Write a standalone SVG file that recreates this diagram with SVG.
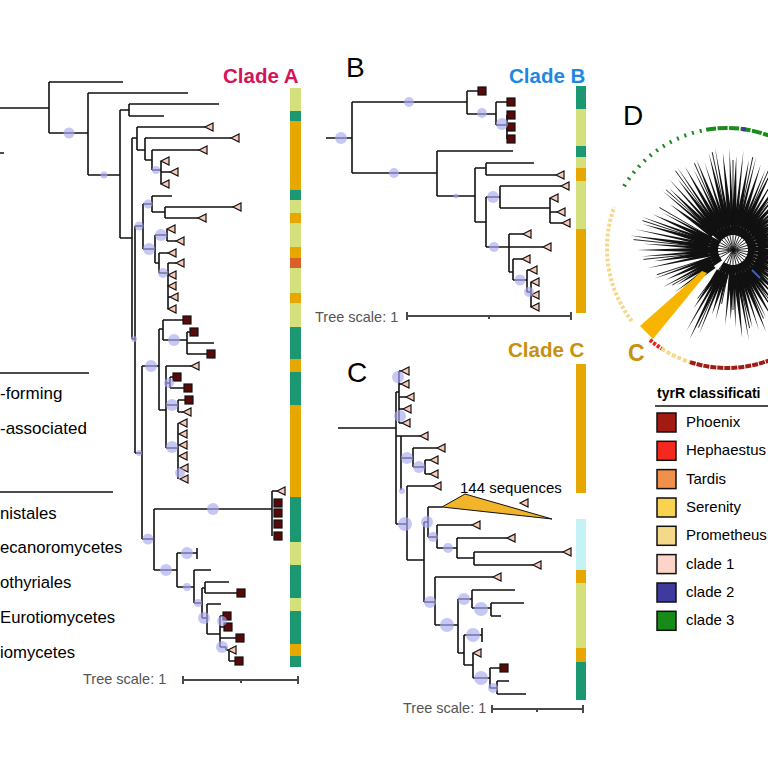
<svg xmlns="http://www.w3.org/2000/svg" width="768" height="768" viewBox="0 0 768 768">
<style>
.t{fill:none;stroke:#111;stroke-width:1.6}
.b{fill:#a9a9ef;fill-opacity:.65}
.lg{fill:#d3e07c}.tl{fill:#1b9772}.or{fill:#e5a700}.ro{fill:#d9602a}.cy{fill:#c5f2f5}
.sc{fill:none;stroke:#4a4a4a;stroke-width:2}
.st{font-family:"Liberation Sans",Arial,sans-serif;font-size:14.5px;fill:#555}
.lab{font-family:"Liberation Sans",Arial,sans-serif;font-size:28px;fill:#000}
.cl{font-family:"Liberation Sans",Arial,sans-serif;font-size:20.5px;font-weight:bold}
.lt{font-family:"Liberation Sans",Arial,sans-serif;font-size:17px;fill:#000}
.le{font-family:"Liberation Sans",Arial,sans-serif;font-size:15px;fill:#000}
.box{stroke:#111;stroke-width:1.5}
</style>
<defs>
<path id="tri" d="M0,0L8,-4L8,4Z" fill="#f8cab6" stroke="#111" stroke-width="1.2"/>
<rect id="sq" x="-4" y="-4" width="8" height="8" fill="#5a0909" stroke="#111" stroke-width="1.2"/>
</defs>

<g id="legend-left">
<path d="M0,373H89M0,492H113" stroke="#111" stroke-width="1.5"/>
<text class="lt" x="0" y="399">-forming</text>
<text class="lt" x="0" y="434">-associated</text>
<text class="lt" x="0" y="519" style="font-size:16.7px">nistales</text>
<text class="lt" x="0" y="553" style="font-size:16.7px">ecanoromycetes</text>
<text class="lt" x="0" y="588" style="font-size:16.7px">othyriales</text>
<text class="lt" x="0" y="623" style="font-size:16.7px">Eurotiomycetes</text>
<text class="lt" x="0" y="658" style="font-size:16.7px">iomycetes</text>
</g>

<g id="panelA">
<text class="cl" x="223" y="83" fill="#d4145a">Clade A</text>
<g id="stripA">
<rect class="lg" x="290" y="88" width="11" height="23"/>
<rect class="tl" x="290" y="111" width="11" height="10"/>
<rect class="or" x="290" y="121" width="11" height="69"/>
<rect class="tl" x="290" y="190" width="11" height="10"/>
<rect class="lg" x="290" y="200" width="11" height="13"/>
<rect class="or" x="290" y="213" width="11" height="10"/>
<rect class="lg" x="290" y="223" width="11" height="24"/>
<rect class="or" x="290" y="247" width="11" height="11"/>
<rect class="ro" x="290" y="258" width="11" height="10"/>
<rect class="lg" x="290" y="268" width="11" height="25"/>
<rect class="or" x="290" y="293" width="11" height="10"/>
<rect class="lg" x="290" y="303" width="11" height="24"/>
<rect class="tl" x="290" y="327" width="11" height="32"/>
<rect class="or" x="290" y="359" width="11" height="13"/>
<rect class="tl" x="290" y="372" width="11" height="33"/>
<rect class="or" x="290" y="405" width="11" height="92"/>
<rect class="tl" x="290" y="497" width="11" height="45"/>
<rect class="lg" x="290" y="542" width="11" height="23"/>
<rect class="tl" x="290" y="565" width="11" height="33"/>
<rect class="lg" x="290" y="598" width="11" height="13"/>
<rect class="tl" x="290" y="611" width="11" height="33"/>
<rect class="or" x="290" y="644" width="11" height="12"/>
<rect class="tl" x="290" y="656" width="11" height="11"/>
</g>
<g id="edgesA">
<path class="t" d="M0,108H49M49,82V133M49,82H123M49,133H88M0,153H4M88,93V175M88,93H188M88,175H120M120,110V238M120,110H129M129,104V116M129,104H219M129,116H164M120,238H132M132,138V339M132,138H137M137,127V150M137,127H205M137,150H145M145,138V160M145,138H231M145,160H152M152,150V170M152,150H199M152,170H161M161,161V184M161,172H170M132,339H135M135,226V453M135,226H143M143,204V249M143,204H152M152,196V212M152,196H172M152,212H165M165,207V218M165,207H233M165,218H198M143,249H155M155,235V263M155,235H167M167,229V241M167,241H176M155,263H159M159,253V273M159,253H168M159,273H168M168,263V309M168,263H176M168,297H170"/>
<path class="t" d="M135,453H142M142,366V539M142,366H159M159,329V410M159,329H163M163,320V340M163,320H183M163,340H187M187,332V354M187,332H190M187,343H214M187,354H207M159,410H166M166,366V448M166,366H191M166,383H170M170,377V388M170,377H173M170,388H184M166,405H178M178,400V412M178,400H185M178,412H183M166,448H178M178,423V479"/>
<path class="t" d="M142,539H154M154,509V570M154,509H272M272,491V536M272,491H277M154,570H177M177,553V587M177,553H197M197,548V559M177,587H194M194,570V603M194,570H211M194,603H202M202,588V618M202,588H205M205,582V593M205,582H229M205,593H237M202,618H207M207,604V634M207,604H221M207,634H220M220,616V647M220,616H223M220,627H224M220,638H236M220,647H226M226,647V650M226,650H228M229,650V661M229,661H235"/>
</g>
<g id="tipsA">
<use href="#tri" x="205" y="127"/><use href="#tri" x="231" y="138"/><use href="#tri" x="199" y="150"/>
<use href="#tri" x="161" y="161"/><use href="#tri" x="170" y="172"/><use href="#tri" x="161" y="184"/>
<use href="#tri" x="233" y="207"/><use href="#tri" x="198" y="218"/><use href="#tri" x="167" y="229"/>
<use href="#tri" x="176" y="241"/><use href="#tri" x="168" y="253"/><use href="#tri" x="176" y="263"/>
<use href="#tri" x="168" y="275"/><use href="#tri" x="168" y="286"/><use href="#tri" x="170" y="297"/><use href="#tri" x="168" y="309"/>
<use href="#tri" x="191" y="366"/><use href="#tri" x="183" y="412"/><use href="#tri" x="179" y="423"/><use href="#tri" x="179" y="434"/>
<use href="#tri" x="179" y="445"/><use href="#tri" x="179" y="456"/><use href="#tri" x="180" y="468"/><use href="#tri" x="180" y="479"/>
<use href="#tri" x="277" y="491"/><use href="#tri" x="228" y="650"/>
<use href="#sq" x="187" y="320"/><use href="#sq" x="194" y="332"/><use href="#sq" x="211" y="354"/>
<use href="#sq" x="177" y="377"/><use href="#sq" x="188" y="388"/><use href="#sq" x="189" y="400"/>
<use href="#sq" x="278" y="503"/><use href="#sq" x="278" y="513"/><use href="#sq" x="278" y="524"/><use href="#sq" x="278" y="536"/>
<use href="#sq" x="241" y="593"/><use href="#sq" x="227" y="616"/><use href="#sq" x="228" y="627"/><use href="#sq" x="240" y="638"/><use href="#sq" x="239" y="661"/>
</g>
<g id="supportA">
<circle class="b" cx="69" cy="133" r="5.5"/><circle class="b" cx="104" cy="175" r="3.5"/><circle class="b" cx="156" cy="170" r="4"/>
<circle class="b" cx="139" cy="226" r="4.5"/><circle class="b" cx="148" cy="204" r="4.5"/><circle class="b" cx="149" cy="249" r="6"/>
<circle class="b" cx="161" cy="235" r="6"/><circle class="b" cx="163" cy="273" r="5"/><circle class="b" cx="134" cy="339" r="3"/>
<circle class="b" cx="139" cy="453" r="3"/><circle class="b" cx="151" cy="366" r="6"/><circle class="b" cx="174" cy="340" r="6"/>
<circle class="b" cx="169" cy="383" r="5"/><circle class="b" cx="172" cy="405" r="6"/><circle class="b" cx="172" cy="447" r="6"/>
<circle class="b" cx="180" cy="473" r="5"/><circle class="b" cx="148" cy="539" r="5.5"/><circle class="b" cx="213" cy="509" r="6"/>
<circle class="b" cx="166" cy="570" r="6"/><circle class="b" cx="187" cy="553" r="6"/><circle class="b" cx="187" cy="587" r="4"/>
<circle class="b" cx="198" cy="603" r="4"/><circle class="b" cx="204" cy="618" r="6"/><circle class="b" cx="222" cy="621" r="5"/>
<circle class="b" cx="222" cy="647" r="6"/>
</g>
<g id="scaleA">
<text class="st" x="83" y="684">Tree scale: 1</text>
<path class="sc" d="M183,680H298M183,676V684M298,676V684M241,680V683"/>
</g>
</g>

<g id="panelB">
<text class="lab" x="346" y="77">B</text>
<text class="cl" x="509" y="83" fill="#1e88e5">Clade B</text>
<g id="stripB">
<rect class="tl" x="576" y="86" width="10" height="23"/>
<rect class="lg" x="576" y="109" width="10" height="37"/>
<rect class="tl" x="576" y="146" width="10" height="11"/>
<rect class="lg" x="576" y="157" width="10" height="11"/>
<rect class="or" x="576" y="168" width="10" height="13"/>
<rect class="lg" x="576" y="181" width="10" height="48"/>
<rect class="or" x="576" y="229" width="10" height="84"/>
</g>
<g id="edgesB">
<path class="t" d="M326,138H352M352,102V173M352,102H467M467,91V114M467,91H478M467,114H496M496,102V125M496,102H507M496,125H507M507,115V139M352,173H437M437,151V196M437,151H513M437,196H475M475,168V222M475,168H486M486,163V175M486,163H534M486,175H556M475,222H486M486,197V247M486,197H500M500,186V208M500,186H561M500,208H550M550,198V223M550,212H557M550,223H562M486,247H509M509,234V272M509,234H523M509,247H543M509,272H513M513,259V280M513,259H522M513,280H527M527,270V292M527,270H529M527,292H531M531,282V307"/>
</g>
<g id="tipsB">
<use href="#sq" x="482" y="91"/><use href="#sq" x="511" y="102"/><use href="#sq" x="511" y="115"/><use href="#sq" x="511" y="127"/><use href="#sq" x="511" y="139"/>
<use href="#tri" x="556" y="175"/><use href="#tri" x="561" y="186"/><use href="#tri" x="550" y="198"/><use href="#tri" x="557" y="212"/><use href="#tri" x="562" y="223"/>
<use href="#tri" x="523" y="234"/><use href="#tri" x="543" y="247"/><use href="#tri" x="522" y="259"/><use href="#tri" x="529" y="270"/>
<use href="#tri" x="531" y="282"/><use href="#tri" x="531" y="295"/><use href="#tri" x="531" y="307"/>
</g>
<g id="supportB">
<circle class="b" cx="341" cy="138" r="6"/><circle class="b" cx="409" cy="102" r="5"/><circle class="b" cx="482" cy="113" r="5"/>
<circle class="b" cx="502" cy="124" r="6"/><circle class="b" cx="394" cy="173" r="5"/><circle class="b" cx="456" cy="196" r="2.5"/>
<circle class="b" cx="493" cy="197" r="6"/><circle class="b" cx="494" cy="247" r="5"/><circle class="b" cx="520" cy="280" r="5.5"/>
<circle class="b" cx="529" cy="292" r="5"/>
</g>
<g id="scaleB">
<text class="st" x="315" y="322">Tree scale: 1</text>
<path class="sc" d="M407,316H571M407,312V320M571,312V320M489,316V319"/>
</g>
</g>

<g id="panelC">
<text class="lab" x="347" y="382">C</text>
<text class="cl" x="508" y="357" fill="#c8900c">Clade C</text>
<g id="stripC">
<rect class="or" x="576" y="364" width="10" height="129"/>
<rect class="cy" x="576" y="519" width="10" height="51"/>
<rect class="or" x="576" y="570" width="10" height="13"/>
<rect class="lg" x="576" y="583" width="10" height="65"/>
<rect class="or" x="576" y="648" width="10" height="14"/>
<rect class="tl" x="576" y="662" width="10" height="38"/>
</g>
<g id="edgesC">
<path class="t" d="M338,428H396M396,392V524M396,392H399M399,371V423M399,371H401M399,384H401M399,397H406M399,409H403M399,423H402M396,436H420M401,436V490M401,458H413M413,448V467M413,448H437M413,467H425M425,460V474M425,460H430M425,474H430M396,524H407M407,486V560M407,486H433M407,560H424M424,522V602M424,522H428M428,507V537M428,507H442M428,537H437M437,525V548M437,525H472M437,548H457M457,538V558M457,538H507M457,558H474M474,552V565M474,552H563M474,565H533M424,602H435M435,577V625M435,577H493M435,625H458M458,599V653M458,599H472M472,590V608M472,590H515M472,608H491M491,603V616M491,603H524M491,616H501M458,653H464M464,635V665M464,635H482M482,628V642M464,665H473M473,653V678M473,678H490M490,668V688M490,668H500M490,688H497M497,681V694M497,681H509M497,694H526"/>
</g>
<g id="collapsedC">
<polygon points="442,507 465,494 552,519" fill="#f2b52a" stroke="#111" stroke-width="1"/>
<text class="le" x="460" y="493">144 sequences</text>
</g>
<g id="tipsC">
<use href="#tri" x="401" y="371"/><use href="#tri" x="401" y="384"/><use href="#tri" x="406" y="397"/><use href="#tri" x="403" y="409"/>
<use href="#tri" x="402" y="423"/><use href="#tri" x="420" y="436"/><use href="#tri" x="437" y="448"/><use href="#tri" x="430" y="460"/>
<use href="#tri" x="430" y="474"/><use href="#tri" x="433" y="486"/><use href="#tri" x="520" y="503"/><use href="#tri" x="472" y="525"/>
<use href="#tri" x="507" y="538"/><use href="#tri" x="563" y="552"/><use href="#tri" x="533" y="565"/><use href="#tri" x="493" y="577"/>
<use href="#tri" x="473" y="653"/><use href="#sq" x="504" y="668"/>
</g>
<g id="supportC">
<circle class="b" cx="398" cy="377" r="6"/><circle class="b" cx="400" cy="416" r="6"/><circle class="b" cx="407" cy="458" r="6"/>
<circle class="b" cx="419" cy="467" r="6"/><circle class="b" cx="402" cy="491" r="3"/><circle class="b" cx="405" cy="524" r="7"/>
<circle class="b" cx="427" cy="522" r="6"/><circle class="b" cx="433" cy="537" r="5"/><circle class="b" cx="448" cy="548" r="5"/>
<circle class="b" cx="430" cy="602" r="6"/><circle class="b" cx="447" cy="625" r="7"/><circle class="b" cx="464" cy="599" r="6"/>
<circle class="b" cx="481" cy="609" r="7"/><circle class="b" cx="473" cy="635" r="7"/><circle class="b" cx="481" cy="678" r="7"/>
<circle class="b" cx="493" cy="688" r="5"/>
</g>
<g id="scaleC">
<text class="st" x="403" y="713">Tree scale: 1</text>
<path class="sc" d="M492,709H583M492,705V713M583,705V713M537,709V712"/>
</g>
</g>

<g id="panelD">
<text class="lab" x="623" y="125">D</text>
<g id="ringD" fill="none" stroke-width="4">
<path d="M624.1,186.2A120,120 0 0 1 706.2,129.8" stroke="#1a8c1a" stroke-dasharray="2 6"/>
<path d="M706.2,129.8A120,120 0 0 1 787,144.1" stroke="#1a8c1a" stroke-dasharray="10 1.5"/>
<path d="M741.6,128.9A120,120 0 0 1 745.8,129.5" stroke="#3f3a9e"/>
<path d="M631.8,321.1A120,120 0 0 1 614.2,207" stroke="#f5d98a" stroke-dasharray="3 2"/>
<path d="M649.9,339.9A120,120 0 0 0 661.6,348.6" stroke="#e8201a" stroke-dasharray="3 1.5"/>
<path d="M661.6,348.6A120,120 0 0 0 689.9,362.1" stroke="#f5d98a" stroke-dasharray="4 2"/>
<path d="M689.9,362.1A120,120 0 0 0 777.7,356.8" stroke="#a01c14" stroke-dasharray="6 1"/>
</g>
<g id="treeD">
<g fill="#111">
<path d="M748,248L788,250L748,252Z"/>
<path d="M758,247.4L795,250L758,252.6Z" transform="rotate(4 733 250)"/>
<path d="M748,248L783,250L748,252Z" transform="rotate(8 733 250)"/>
<path d="M758,247.4L793,250L758,252.6Z" transform="rotate(12 733 250)"/>
<path d="M748,248L781,250L748,252Z" transform="rotate(16 733 250)"/>
<path d="M758,247.4L791,250L758,252.6Z" transform="rotate(20 733 250)"/>
<path d="M748,248L785,250L748,252Z" transform="rotate(24 733 250)"/>
<path d="M758,247.4L797,250L758,252.6Z" transform="rotate(28 733 250)"/>
<path d="M748,248L789,250L748,252Z" transform="rotate(32 733 250)"/>
<path d="M758,247.4L799,250L758,252.6Z" transform="rotate(36 733 250)"/>
<path d="M748,248L793,250L748,252Z" transform="rotate(40 733 250)"/>
<path d="M758,247.4L805,250L758,252.6Z" transform="rotate(44 733 250)"/>
<path d="M748,248L811,250L748,252Z" transform="rotate(48 733 250)"/>
<path d="M758,247.4L803,250L758,252.6Z" transform="rotate(52 733 250)"/>
<path d="M748,248L815,250L748,252Z" transform="rotate(56 733 250)"/>
<path d="M758,247.4L813,250L758,252.6Z" transform="rotate(60 733 250)"/>
<path d="M748,248L809,250L748,252Z" transform="rotate(64 733 250)"/>
<path d="M758,247.4L821,250L758,252.6Z" transform="rotate(68 733 250)"/>
<path d="M748,248L817,250L748,252Z" transform="rotate(72 733 250)"/>
<path d="M758,247.4L813,250L758,252.6Z" transform="rotate(76 733 250)"/>
<path d="M748,248L825,250L748,252Z" transform="rotate(80 733 250)"/>
<path d="M758,247.4L821,250L758,252.6Z" transform="rotate(84 733 250)"/>
<path d="M748,248L811,250L748,252Z" transform="rotate(88 733 250)"/>
<path d="M758,247.4L803,250L758,252.6Z" transform="rotate(92 733 250)"/>
<path d="M748,248L809,250L748,252Z" transform="rotate(96 733 250)"/>
<path d="M748,248L805,250L748,252Z" transform="rotate(104 733 250)"/>
<path d="M758,247.4L801,250L758,252.6Z" transform="rotate(108 733 250)"/>
<path d="M748,248L823,250L748,252Z" transform="rotate(112 733 250)"/>
<path d="M758,247.4L833,250L758,252.6Z" transform="rotate(116 733 250)"/>
<path d="M748,248L827,250L748,252Z" transform="rotate(120 733 250)"/>
<path d="M758,247.4L803,250L758,252.6Z" transform="rotate(124 733 250)"/>
<path d="M758,247.4L795,250L758,252.6Z" transform="rotate(140 733 250)"/>
<path d="M748,248L805,250L748,252Z" transform="rotate(144 733 250)"/>
<path d="M758,247.4L799,250L758,252.6Z" transform="rotate(148 733 250)"/>
<path d="M748,248L813,250L748,252Z" transform="rotate(152 733 250)"/>
<path d="M758,247.4L807,250L758,252.6Z" transform="rotate(156 733 250)"/>
<path d="M748,248L817,250L748,252Z" transform="rotate(160 733 250)"/>
<path d="M748,248L821,250L748,252Z" transform="rotate(168 733 250)"/>
<path d="M758,247.4L813,250L758,252.6Z" transform="rotate(172 733 250)"/>
<path d="M748,248L825,250L748,252Z" transform="rotate(176 733 250)"/>
<path d="M758,247.4L829,250L758,252.6Z" transform="rotate(180 733 250)"/>
<path d="M748,248L823,250L748,252Z" transform="rotate(184 733 250)"/>
<path d="M758,247.4L837,250L758,252.6Z" transform="rotate(188 733 250)"/>
<path d="M748,248L833,250L748,252Z" transform="rotate(192 733 250)"/>
<path d="M758,247.4L827,250L758,252.6Z" transform="rotate(196 733 250)"/>
<path d="M748,248L831,250L748,252Z" transform="rotate(200 733 250)"/>
<path d="M758,247.4L821,250L758,252.6Z" transform="rotate(204 733 250)"/>
<path d="M748,248L813,250L748,252Z" transform="rotate(208 733 250)"/>
<path d="M758,247.4L811,250L758,252.6Z" transform="rotate(216 733 250)"/>
<path d="M748,248L825,250L748,252Z" transform="rotate(220 733 250)"/>
<path d="M758,247.4L821,250L758,252.6Z" transform="rotate(224 733 250)"/>
<path d="M748,248L829,250L748,252Z" transform="rotate(228 733 250)"/>
<path d="M758,247.4L823,250L758,252.6Z" transform="rotate(232 733 250)"/>
<path d="M748,248L833,250L748,252Z" transform="rotate(236 733 250)"/>
<path d="M758,247.4L829,250L758,252.6Z" transform="rotate(240 733 250)"/>
<path d="M748,248L823,250L748,252Z" transform="rotate(244 733 250)"/>
<path d="M758,247.4L831,250L758,252.6Z" transform="rotate(248 733 250)"/>
<path d="M748,248L825,250L748,252Z" transform="rotate(252 733 250)"/>
<path d="M758,247.4L833,250L758,252.6Z" transform="rotate(256 733 250)"/>
<path d="M748,248L837,250L748,252Z" transform="rotate(260 733 250)"/>
<path d="M758,247.4L831,250L758,252.6Z" transform="rotate(264 733 250)"/>
<path d="M748,248L835,250L748,252Z" transform="rotate(268 733 250)"/>
<path d="M758,247.4L827,250L758,252.6Z" transform="rotate(272 733 250)"/>
<path d="M748,248L833,250L748,252Z" transform="rotate(276 733 250)"/>
<path d="M758,247.4L825,250L758,252.6Z" transform="rotate(280 733 250)"/>
<path d="M748,248L829,250L748,252Z" transform="rotate(284 733 250)"/>
<path d="M758,247.4L823,250L758,252.6Z" transform="rotate(288 733 250)"/>
<path d="M748,248L821,250L748,252Z" transform="rotate(292 733 250)"/>
<path d="M758,247.4L825,250L758,252.6Z" transform="rotate(296 733 250)"/>
<path d="M748,248L819,250L748,252Z" transform="rotate(300 733 250)"/>
<path d="M758,247.4L817,250L758,252.6Z" transform="rotate(304 733 250)"/>
<path d="M748,248L813,250L748,252Z" transform="rotate(308 733 250)"/>
<path d="M758,247.4L815,250L758,252.6Z" transform="rotate(312 733 250)"/>
<path d="M748,248L809,250L748,252Z" transform="rotate(316 733 250)"/>
<path d="M758,247.4L803,250L758,252.6Z" transform="rotate(320 733 250)"/>
<path d="M748,248L805,250L748,252Z" transform="rotate(324 733 250)"/>
<path d="M758,247.4L799,250L758,252.6Z" transform="rotate(328 733 250)"/>
<path d="M748,248L795,250L748,252Z" transform="rotate(332 733 250)"/>
<path d="M758,247.4L793,250L758,252.6Z" transform="rotate(336 733 250)"/>
<path d="M748,248L791,250L748,252Z" transform="rotate(340 733 250)"/>
<path d="M758,247.4L795,250L758,252.6Z" transform="rotate(344 733 250)"/>
<path d="M748,248L789,250L748,252Z" transform="rotate(348 733 250)"/>
<path d="M758,247.4L793,250L758,252.6Z" transform="rotate(352 733 250)"/>
<path d="M748,248L787,250L748,252Z" transform="rotate(356 733 250)"/>
</g>
<path fill="none" stroke="#111" stroke-width="0.9" d="M733,250L782.7,255.2M733,250L775.8,263.9M733,250L785,280M733,250L785,296.8M733,250L771.2,302.6M733,250L763.5,318.5M733,250L749.6,328.2M733,250L733,310M733,250L721.6,303.8M733,250L698.4,327.6M733,250L697.7,298.5M733,250L672.4,285M733,250L656.9,274.7M733,250L643.5,259.4M733,250L633.6,239.6M733,250L642.6,220.6M733,250L659.4,207.5M733,250L666.1,189.8M733,250L675.4,170.7M733,250L694.4,163.2M733,250L712.2,152.2M733,250L733,160M733,250L752.8,157.1M733,250L768.8,169.6M733,250L783,181.2M733,250L788.7,199.8M733,250L789.3,217.5M733,250L790.1,231.5M733,250L787.7,244.3"/>
<path d="M752,270L760,278" stroke="#3a5fcf" stroke-width="2"/>
<polygon points="640,326 653,339 707,273 702,271" fill="#f7b500"/>
</g>
<text x="628" y="361" font-family="Liberation Sans, Arial, sans-serif" font-size="23" font-weight="bold" fill="#c8900c">C</text>
<g id="legendD">
<text x="657" y="398" font-family="Liberation Sans, Arial, sans-serif" font-size="14" font-weight="bold">tyrR classificati</text>
<path d="M655,406H768" stroke="#111" stroke-width="1.5"/>
<rect class="box" x="657" y="413" width="19" height="19" fill="#a31a12"/><text class="le" x="686" y="427">Phoenix</text>
<rect class="box" x="657" y="441.3" width="19" height="19" fill="#f5281e"/><text class="le" x="686" y="455.3">Hephaestus</text>
<rect class="box" x="657" y="469.6" width="19" height="19" fill="#f0904a"/><text class="le" x="686" y="483.6">Tardis</text>
<rect class="box" x="657" y="498" width="19" height="19" fill="#f8d250"/><text class="le" x="686" y="512">Serenity</text>
<rect class="box" x="657" y="526.3" width="19" height="19" fill="#f5d98a"/><text class="le" x="686" y="540.3">Prometheus</text>
<rect class="box" x="657" y="554.6" width="19" height="19" fill="#fcd5c8"/><text class="le" x="686" y="568.6">clade 1</text>
<rect class="box" x="657" y="583" width="19" height="19" fill="#3f3a9e"/><text class="le" x="686" y="597">clade 2</text>
<rect class="box" x="657" y="611.3" width="19" height="19" fill="#188a18"/><text class="le" x="686" y="625.3">clade 3</text>
</g>
</g>
</svg>
